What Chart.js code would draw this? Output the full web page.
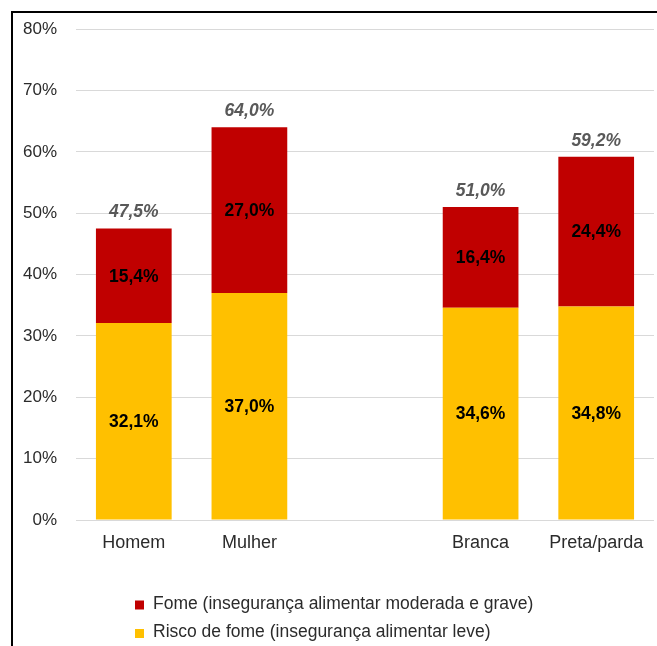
<!DOCTYPE html>
<html>
<head>
<meta charset="utf-8">
<script src="https://cdn.jsdelivr.net/npm/chart.js@4.4.1/dist/chart.umd.min.js"></script>
<style>
  html, body { margin: 0; padding: 0; background: #fff; overflow: hidden; }
  #wrap { position: relative; width: 657px; height: 646px; }
  #frame { position: absolute; left: 11px; top: 11px; width: 700px; height: 700px;
           border-left: 2px solid #000; border-top: 2px solid #000; pointer-events: none; }
  canvas { position: absolute; left: 0; top: 0; }
</style>
</head>
<body>
<div id="wrap">
  <canvas id="chart" width="657" height="646"></canvas>
  <div id="frame"></div>
</div>
<script>
// dados (em %)
const categorias = ["Homem", "Mulher", "", "Branca", "Preta/parda"];
const riscoFome = [32.1, 37.0, null, 34.6, 34.8];
const fome = [15.4, 27.0, null, 16.4, 24.4];
const totais = [47.5, 64.0, null, 51.0, 59.2];
const yTicks = [0, 10, 20, 30, 40, 50, 60, 70, 80];

const VERMELHO = "#C00000";
const AMARELO = "#FFC000";
const FONTE = "'Liberation Sans', Arial, sans-serif";

const fmt = v => v.toFixed(1).replace('.', ',') + '%';

// rótulos dentro das barras e totais acima
const rotulosPlugin = {
    id: 'rotulos',
    afterDatasetsDraw(chart) {
        const ctx = chart.ctx;
        ctx.save();
        ctx.textAlign = 'center';
        ctx.textBaseline = 'middle';
        ctx.font = "bold 17.5px " + FONTE;
        ctx.fillStyle = '#000';
        chart.data.datasets.forEach((ds, i) => {
            chart.getDatasetMeta(i).data.forEach((bar, j) => {
                if (ds.data[j] == null) return;
                ctx.fillText(fmt(ds.data[j]), bar.x, (bar.y + bar.base) / 2 + 1);
            });
        });
        ctx.font = "italic bold 17.5px " + FONTE;
        ctx.fillStyle = '#595959';
        const topo = chart.getDatasetMeta(1).data;
        topo.forEach((bar, j) => {
            if (totais[j] == null) return;
            ctx.fillText(fmt(totais[j]), bar.x, bar.y - 16);
        });
        ctx.restore();
    }
};

// legenda empilhada embaixo
const legendaPlugin = {
    id: 'legendaEmpilhada',
    afterDraw(chart) {
        const ctx = chart.ctx;
        const ordem = [1, 0];
        ctx.save();
        ctx.font = "17.5px " + FONTE;
        ctx.textBaseline = 'middle';
        ordem.forEach((i, k) => {
            const ds = chart.data.datasets[i];
            const y = 605 + k * 28.5;
            ctx.fillStyle = ds.backgroundColor;
            ctx.fillRect(135, y - 4.5, 9, 9);
            ctx.fillStyle = '#2b2b2b';
            ctx.fillText(ds.label, 153, y - 1);
        });
        ctx.restore();
    }
};

new Chart(document.getElementById('chart'), {
    type: 'bar',
    data: {
        labels: categorias,
        datasets: [
            { label: "Risco de fome (insegurança alimentar leve)", data: riscoFome, backgroundColor: AMARELO },
            { label: "Fome (insegurança alimentar moderada e grave)", data: fome, backgroundColor: VERMELHO }
        ]
    },
    options: {
        responsive: false,
        animation: false,
        layout: { padding: { left: 4, right: 3, top: 28, bottom: 86 } },
        datasets: { bar: { categoryPercentage: 1, barPercentage: 0.655 } },
        plugins: { legend: { display: false }, tooltip: { enabled: false } },
        scales: {
            x: {
                stacked: true,
                grid: { display: false, drawTicks: false },
                border: { display: false },
                ticks: { color: '#2b2b2b', font: { family: FONTE, size: 18 }, padding: 12 },
                afterFit: s => { s.height = 40; }
            },
            y: {
                stacked: true,
                min: 0,
                max: 80,
                afterBuildTicks: s => { s.ticks = yTicks.map(v => ({ value: v })); },
                grid: { color: '#d9d9d9', lineWidth: 1, drawTicks: false },
                border: { display: false },
                ticks: { color: '#2b2b2b', font: { family: FONTE, size: 17 }, padding: 19,
                         callback: v => v + '%' },
                afterFit: s => { s.width = 72; }
            }
        }
    },
    plugins: [rotulosPlugin, legendaPlugin]
});
</script>
</body>
</html>
